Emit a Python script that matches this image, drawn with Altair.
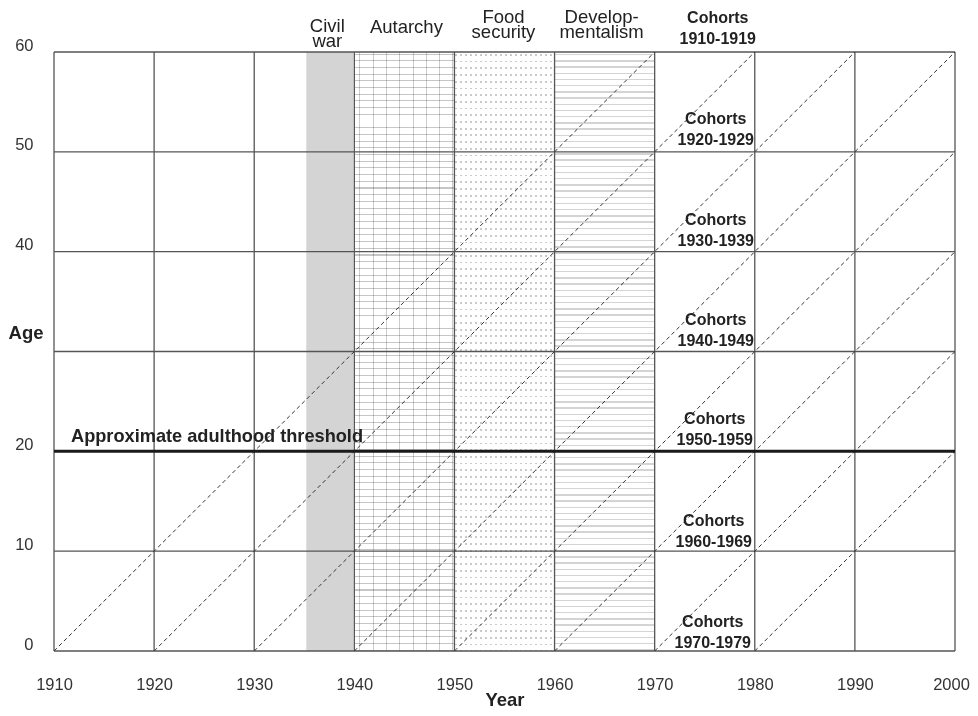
import altair as alt
import pandas as pd

# ---------------- data ----------------
grid_years = [1910, 1920, 1930, 1940, 1950, 1960, 1970, 1980, 1990, 2000]
grid_ages = [0, 10, 20, 30, 40, 50, 60]
y_label_values = [0, 10, 20, 40, 50, 60]
cohort_births = [1910, 1920, 1930, 1940, 1950, 1960, 1970, 1980]

period_names = ["Civil war", "Autarchy", "Food security", "Developmentalism"]
period_start = [1935.2, 1940, 1950, 1960]
period_end = [1939.9, 1950, 1960, 1970]
period_text = ["Civil\nwar", "Autarchy", "Food\nsecurity", "Develop-\nmentalism"]
period_text_year = [1937.3, 1945.2, 1954.9, 1964.7]
period_text_age = [62.05, 61.9, 62.95, 62.95]

cohort_text = ["Cohorts\n1910-1919", "Cohorts\n1920-1929", "Cohorts\n1930-1939",
               "Cohorts\n1940-1949", "Cohorts\n1950-1959", "Cohorts\n1960-1969",
               "Cohorts\n1970-1979"]
cohort_text_year = [1976.3, 1976.1, 1976.1, 1976.1, 1976.0, 1975.9, 1975.8]
cohort_text_age = [63.4, 53.3, 43.2, 33.2, 23.2, 13.0, 2.9]

threshold_age = 20
threshold_text = "Approximate adulthood threshold"
threshold_text_year = 1911.7
threshold_text_age = 20.9

# ---------------- tables ----------------
periods = pd.DataFrame({"period": period_names, "start": period_start, "end": period_end})
ptext = pd.DataFrame({"t": period_text, "year": period_text_year, "age": period_text_age})
ctext = pd.DataFrame({"t": cohort_text, "year": cohort_text_year, "age": cohort_text_age})
vgrid = pd.DataFrame({"year": grid_years})
hgrid = pd.DataFrame({"age": grid_ages})
diag_rows = []
for b in cohort_births:
    diag_rows.append({"cohort": b, "year": b, "age": 0})
    diag_rows.append({"cohort": b, "year": b + 60, "age": 60})
diag = pd.DataFrame(diag_rows)
thr = pd.DataFrame({"age": [threshold_age]})
thr_t = pd.DataFrame({"t": [threshold_text], "year": [threshold_text_year], "age": [threshold_text_age]})

W, H = 901, 599
FONT = "Liberation Sans"
XS = alt.Scale(domain=[1910, 2000], nice=False, zero=False)
YS = alt.Scale(domain=[0, 60], nice=False, zero=False)

XAX = alt.Axis(values=grid_years, format="d", grid=False, ticks=False, tickSize=0, domain=False,
               labelFlush=False, labelOverlap=False,
               labelOffset={"condition": {"test": "datum.value >= 2000", "value": -4}, "value": 0},
               labelFontSize=16.5, labelFont=FONT, labelColor="#333333", labelPadding=38,
               labelBaseline="alphabetic", titleFont=FONT, titleFontSize=18.5,
               titleFontWeight="bold", titleColor="#222222", titleBaseline="alphabetic",
               titleY=54)
YAX = alt.Axis(values=y_label_values, format="d", grid=False, ticks=False, tickSize=0, domain=False,
               labelFlush=False, labelOverlap=False,
               labelFontSize=16.5, labelFont=FONT, labelColor="#333333", labelPadding=21,
               labelBaseline="alphabetic", labelOffset=-2,
               titleFont=FONT, titleFontSize=18.5, titleFontWeight="bold", titleColor="#222222",
               titleAngle=0, titleAlign="center", titleBaseline="alphabetic",
               titleX=-28.5, titleY=286)


def X(field):
    return alt.X(field, scale=XS, axis=XAX, title="Year")


def Y(field):
    return alt.Y(field, scale=YS, axis=YAX, title="Age")


# ---------------- texture helpers (style only) ----------------
def stripes(step, thick, total, color, vertical_lines=False, phase=0.0, bg="#ffffff"):
    stops = [alt.GradientStop(offset=0, color=bg)]
    pos = phase
    while pos < total:
        a = max(pos / total, 0)
        b = min((pos + thick) / total, 1)
        stops += [alt.GradientStop(offset=a, color=bg), alt.GradientStop(offset=a, color=color),
                  alt.GradientStop(offset=b, color=color), alt.GradientStop(offset=b, color=bg)]
        pos += step
    stops.append(alt.GradientStop(offset=1, color=bg))
    if vertical_lines:
        return alt.Gradient(gradient="linear", stops=stops, x1=0, x2=1, y1=0, y2=0)
    return alt.Gradient(gradient="linear", stops=stops, x1=0, x2=0, y1=0, y2=1)


DEC = W / 9.0
base = alt.Chart(periods)


def prect(name, **kw):
    return base.transform_filter(alt.datum.period == name).mark_rect(**kw).encode(
        x=X("start:Q"), x2="end:Q")


civil = prect("Civil war", fill="#d4d4d4")
aut_h = prect("Autarchy", fill=stripes(6.7, 1.0, H, "#c6c6c6", phase=1.5))
aut_v = prect("Autarchy", fill=stripes(13.3, 1.0, DEC, "#cccccc", vertical_lines=True, phase=5),
              blend="multiply")
food_h = prect("Food security", fill=stripes(6.7, 1.8, H, "#cacaca", phase=2))
food_v = prect("Food security", fill=stripes(5.0, 1.6, DEC, "#cacaca", vertical_lines=True, phase=1),
               blend="lighten")
dev_h = prect("Developmentalism", fill=stripes(6.2, 1.4, H, "#d4d4d4", phase=2))

vlines = alt.Chart(vgrid).mark_rule(color="#555555", strokeWidth=1.3).encode(x=X("year:Q"))
hlines = alt.Chart(hgrid).mark_rule(color="#555555", strokeWidth=1.3).encode(y=Y("age:Q"))

diags = alt.Chart(diag).mark_line(color="#333333", strokeWidth=1, strokeDash=[4, 3], clip=True).encode(
    x=X("year:Q"), y=Y("age:Q"), detail="cohort:N")

thr_line = alt.Chart(thr).mark_rule(color="#1a1a1a", strokeWidth=3).encode(y=Y("age:Q"))

thr_label = alt.Chart(thr_t).mark_text(align="left", baseline="alphabetic", font=FONT, fontSize=18.2,
                                       fontWeight="bold", color="#222222").encode(
    x=X("year:Q"), y=Y("age:Q"), text="t:N")

p_label = alt.Chart(ptext).mark_text(align="center", baseline="alphabetic", font=FONT, fontSize=18.5,
                                     lineBreak="\n", lineHeight=15, color="#222222").encode(
    x=X("year:Q"), y=Y("age:Q"), text="t:N")

c_label = alt.Chart(ctext).mark_text(align="center", baseline="middle", font=FONT, fontSize=16,
                                     fontWeight="bold", lineBreak="\n", lineHeight=21,
                                     color="#222222").encode(
    x=X("year:Q"), y=Y("age:Q"), text="t:N")

chart = alt.layer(civil, aut_h, aut_v, food_h, food_v, dev_h, vlines, hlines, diags, thr_line,
                  thr_label, p_label, c_label).properties(
    width=W, height=H, autosize="none",
    padding={"left": 46, "top": 44, "right": 15, "bottom": 57},
    background="white",
).configure_view(stroke=None)

chart.save("out.html", embed_options={"renderer": "svg", "actions": False})
